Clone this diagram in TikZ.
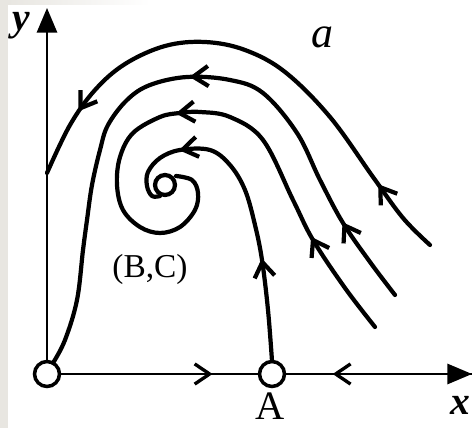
\documentclass[tikz,border=0pt]{standalone}
\usepackage{fontspec}
\setmainfont{Liberation Serif}
\usetikzlibrary{arrows.meta,decorations.markings}
\definecolor{stripgray}{RGB}{232,230,225}
\begin{document}
\begin{tikzpicture}[x=0.02cm,y=-0.02cm,
  flow/.style={line width=2.4pt, line cap=round, line join=round},
  axisline/.style={line width=1.25pt},
  eqpt/.style={circle, draw, fill=white, line width=2pt, minimum size=14.2pt, inner sep=0pt},
  focusloop/.style={circle, draw, line width=2.4pt, minimum size=0.4cm, inner sep=0pt},
  barb/.tip={Straight Barb[length=8.5pt,width=11.5pt]},
  axbarb/.tip={Straight Barb[length=8.5pt,width=11.5pt,line width=1.9pt]},
  mktwo/.style 2 args={postaction={decorate}, decoration={markings,
     mark=at position #1 with {\arrow{barb}},
     mark=at position #2 with {\arrow{barb}}}},
  lbl/.style={anchor=base, inner sep=0pt}
]
\useasboundingbox (0,0) rectangle (473,428);
% grey margin strips of the scan
\fill[stripgray] (0,0) rectangle (8,428);
\shade[left color=stripgray, right color=white] (8,0) rectangle (150,5);

% equilibrium points
\node[eqpt] (O) at (47,374) {};
\node[eqpt] (A) at (272,374) {};
\node[focusloop] (F) at (165,185) {};
\coordinate (ytip) at (47,8);
\coordinate (xtip) at (472,374);

% axes
\draw[axisline, -{Triangle[length=14pt,width=11.5pt]}] (O) -- (ytip);
\draw[axisline, -{Triangle[length=14pt,width=11.5pt]}] (A) -- (xtip);
\draw[axisline, postaction={decorate}, decoration={markings,
   mark=at position 0.77 with {\arrow{axbarb}}}] (O) -- (A);
\draw[axisline, postaction={decorate}, decoration={markings,
   mark=at position 0.25 with {\arrowreversed{axbarb}}}] (A) -- (xtip);

% trajectories
\draw[flow, mktwo={0.15}{0.87}] plot[smooth, tension=0.6] coordinates {
  (430,245) (403,218) (373,177) (330,117) (285,72) (245,50) (205,42)
  (165,46) (125,64) (95,90) (70,125) (47,173)};
\draw[flow, mktwo={0.135}{0.48}] plot[smooth, tension=0.6] coordinates {
  (395,295) (370,262) (343,223) (320,180) (297,133) (263,93) (230,80)
  (187,77) (150,85) (127,100) (108,125) (100,150) (92,185) (87,220)
  (83,250) (77,300) (65,340) (53,363)};
\draw[flow, mktwo={0.19}{0.54}] plot[smooth, tension=0.6] coordinates {
  (375,327) (345,288) (313,240) (293,200) (263,140) (230,117) (200,112)
  (180,113) (160,117) (133,133) (120,157) (117,185) (123,210) (140,227)
  (160,233) (180,227) (195,210) (198,193) (192,180) (176,176)};
\draw[flow, mktwo={0.31}{0.78}] plot[smooth, tension=0.6] coordinates {
  (272,361) (268,310) (262,260) (255,225) (245,190) (230,165) (210,150)
  (180,150) (160,158) (148,172) (147,186) (152,196) (160,196)};

% labels
\node[lbl] (ylab) at (21,31) {\fontsize{22.5}{24}\selectfont\bfseries\itshape y};
\node[lbl] (xlab) at (460,415) {\fontsize{22.5}{24}\selectfont\bfseries\itshape x};
\node[lbl] (alab) at (322,48) {\fontsize{25}{27}\selectfont\itshape a};
\node[lbl] (Alab) at (270,419) {\fontsize{23}{25}\selectfont A};
\node[lbl] (BClab) at (150,278) {\fontsize{19}{21}\selectfont (B,C)};
\end{tikzpicture}
\end{document}
